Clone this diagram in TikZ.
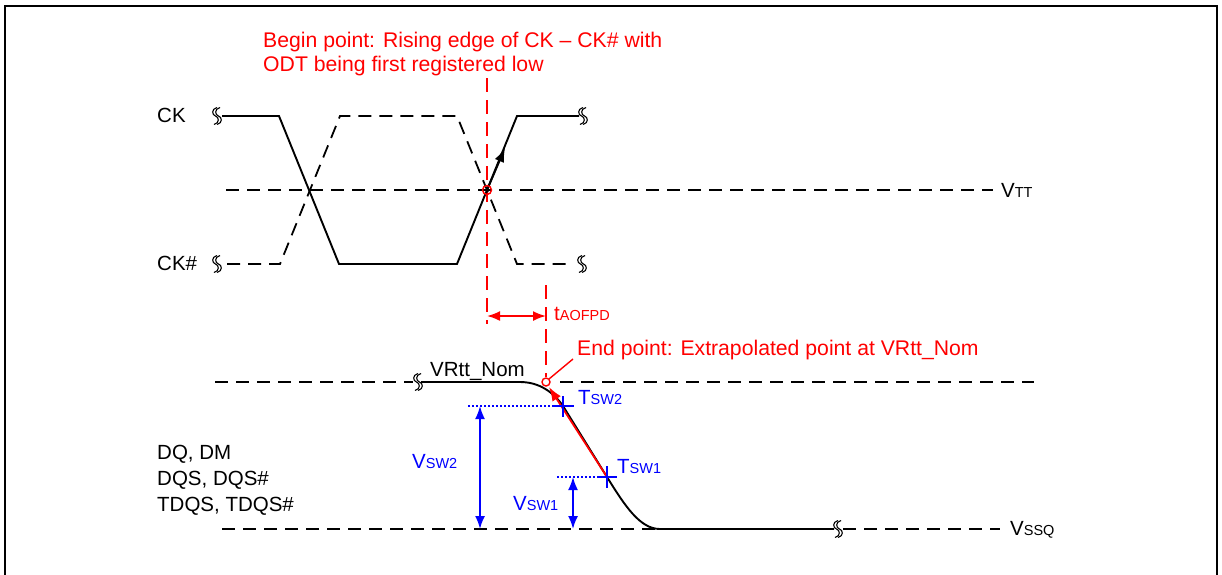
\documentclass[tikz,border=0pt]{standalone}
\usepackage{fontspec}
\setmainfont{Liberation Sans}
\usetikzlibrary{arrows.meta,calc}
\definecolor{myred}{RGB}{255,0,0}
\definecolor{myblue}{RGB}{0,0,255}
\newcommand\smc[1]{{\fontsize{14.5}{15}\selectfont #1}}
\begin{document}
\begin{tikzpicture}[x=1pt,y=-1pt,
  sig/.style={line width=1.9pt,line join=miter},
  dsh/.style={line width=1.8pt,dash pattern=on 13pt off 8pt},
  rdsh/.style={line width=1.8pt,dash pattern=on 14pt off 8pt,myred},
  lbl/.style={anchor=base west,inner sep=0pt,font=\fontsize{20.5}{24}\selectfont},
  rlbl/.style={lbl,text=myred},
  blbl/.style={lbl,text=myblue},
  tipa/.style={-{Latex[length=14pt,width=10pt]}},
  dtip/.style={{Latex[length=13pt,width=10pt]}-{Latex[length=13pt,width=10pt]}},
  brk/.pic={
    \draw[line width=1.1pt] (0,-8.5) .. controls (-6,-7) and (-5,-1) .. (-1.5,0) .. controls (2,1) and (3,7) .. (-3,8.5);
    \draw[line width=1.1pt] (3,-8.5) .. controls (-3,-7) and (-2,-1) .. (1.5,0) .. controls (5,1) and (6,7) .. (0,8.5);
  }
]
\useasboundingbox (0,0) rectangle (1222,574);
% frame
\draw[line width=2.8pt] (5,580) -- (5,6) -- (1217,6) -- (1217,580);

% begin text
\node[rlbl,font=\fontsize{21.2}{24}\selectfont] (begin1) at (263,47) {Begin point: Rising edge of CK – CK\# with};
\node[rlbl,font=\fontsize{21.2}{24}\selectfont] (begin2) at (263,71) {ODT being first registered low};

% red verticals
\draw[rdsh] (487,78) -- (487,324);
\draw[rdsh] (546,285) -- (546,377);

% VTT line
\draw[dsh] (226,190) -- (993,190);
\node[lbl] (vtt) at (1001,197) {V\smc{TT}};

% CK labels
\node[lbl] (ck) at (157,122) {CK};
\node[lbl] (ckn) at (157,270) {CK\#};

% CK waveform
\draw[sig] (222,116) -- (279,116) -- (339,264) -- (457,264) -- (517,116) -- (579,116);
\draw[dsh,line join=miter] (227,264) -- (280,264) -- (340,116) -- (457,116) -- (517,264) -- (573,264);
\pic at (217,116) {brk};
\pic at (583,116) {brk};
\pic at (217,264) {brk};
\pic at (582,264) {brk};

% begin point circle and arrow
\coordinate (bp) at (487,190);
\coordinate (bptip) at (505,148);
\draw[tipa,line width=1.9pt] (bp) -- (bptip);
\draw[myred,line width=1.4pt] (bp) circle[radius=4.5pt];

% tAOFPD
\coordinate (ta) at (487,316);
\coordinate (tb) at (546,316);
\draw[dtip,myred,line width=1.8pt] (ta) -- (tb);
\node[rlbl] (taofpd) at (554,320) {t\smc{AOFPD}};

% VRtt_Nom line
\draw[dsh] (215,382) -- (413,382);
\pic at (418,382) {brk};
\draw[dsh] (560,382) -- (1034,382);
\node[lbl] (vrtt) at (430,376) {VRtt\_Nom};

% Vssq line
\draw[dsh] (222,529) -- (660,529);
\draw[dsh] (843,529) -- (1000,529);
\node[lbl] (vssq) at (1010,535) {V\smc{SSQ}};

% DQ signal
\coordinate (tsw2) at (563,406);
\coordinate (tsw1) at (607,477);
\draw[sig] (421,382) -- (520,382) .. controls (540,382) and (554,393) .. (tsw2) -- (tsw1) .. controls (625,506) and (640,529) .. (660,529) -- (834,529);
\pic at (838,529) {brk};

% extrapolation line
\coordinate (ep) at (546,382);
\coordinate (eptip) at (549,387);
\draw[tipa,myred,line width=1.8pt] (tsw1) -- (eptip);
\draw[myred,line width=1.4pt] (ep) circle[radius=4pt];

% End point text
\node[rlbl,font=\fontsize{21.2}{24}\selectfont] (endpt) at (577,355) {End point: Extrapolated point at VRtt\_Nom};
\coordinate (endl) at (573,359);
\coordinate (endc) at (549,379);
\draw[myred,line width=1.4pt] (endl) -- (endc);

% Tsw markers
\draw[myblue,line width=1.4pt,dash pattern=on 2pt off 2pt] (468,406) -- (552,406);
\draw[myblue,line width=1.6pt] (552,406) -- (574,406) (563,396) -- (563,417);
\node[blbl] (tsw2l) at (578,404) {T\smc{SW2}};
\draw[myblue,line width=1.4pt,dash pattern=on 2pt off 2pt] (557,477) -- (597,477);
\draw[myblue,line width=1.6pt] (597,477) -- (617,477) (607,466) -- (607,488);
\node[blbl] (tsw1l) at (617,473) {T\smc{SW1}};

% Vsw arrows
\coordinate (v2a) at (480,406);
\coordinate (v2b) at (480,529);
\draw[dtip,myblue,line width=1.8pt] (v2a) -- (v2b);
\node[blbl] (vsw2) at (412,468) {V\smc{SW2}};
\coordinate (v1a) at (573,477);
\coordinate (v1b) at (573,529);
\draw[dtip,myblue,line width=1.8pt] (v1a) -- (v1b);
\node[blbl] (vsw1) at (513,510) {V\smc{SW1}};

% DQ labels
\node[lbl] (dq1) at (157,459) {DQ, DM};
\node[lbl] (dq2) at (157,485) {DQS, DQS\#};
\node[lbl] (dq3) at (157,511) {TDQS, TDQS\#};
\end{tikzpicture}
\end{document}
